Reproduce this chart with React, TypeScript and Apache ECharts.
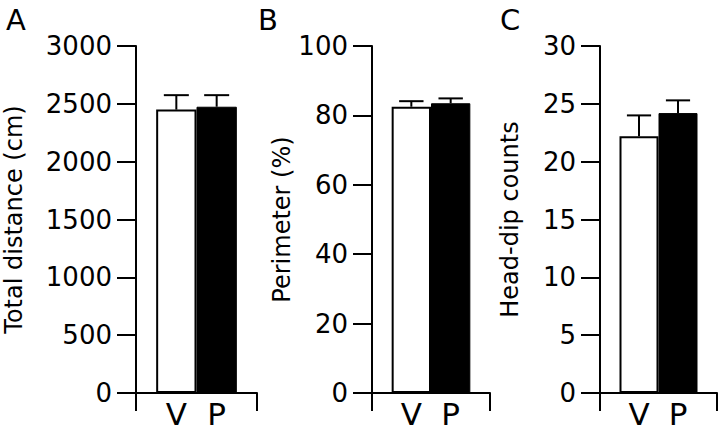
import React, { useEffect, useRef } from "react";
import * as echarts from "echarts";

const categories = ["V", "P"];
const panelLetters = ["A", "B", "C"];
const axisNames = ["Total distance (cm)", "Perimeter (%)", "Head-dip counts"];
const yMax = [3000, 100, 30];
const yInterval = [500, 20, 5];
const distanceMean = [2450, 2475];
const distanceErr = [125, 100];
const perimeterMean = [82.5, 83.5];
const perimeterErr = [1.6, 1.4];
const headDipMean = [22.2, 24.2];
const headDipErr = [1.8, 1.1];

const means = [distanceMean, perimeterMean, headDipMean];
const errs = [distanceErr, perimeterErr, headDipErr];

const FONT = "DejaVu Sans";
const gridLayout = [
  { left: 136, width: 121, nameGap: 110, letterX: 1 },
  { left: 372, width: 118, nameGap: 78, letterX: 253 },
  { left: 600, width: 118, nameGap: 78, letterX: 495 },
];

export default function App() {
  const ref = useRef<HTMLDivElement>(null);
  useEffect(() => {
    if (!ref.current) return;
    const chart = echarts.init(ref.current, null, { renderer: "svg" });
    const axisData = ["", ...categories, ""];
    const grids = gridLayout.map((g) => ({
      left: g.left,
      top: 46,
      width: g.width,
      height: 347,
      containLabel: false,
    }));
    const xAxes = gridLayout.map((g, i) => ({
      type: "category",
      gridIndex: i,
      data: axisData,
      boundaryGap: false,
      axisLine: { show: true, lineStyle: { color: "#000", width: 2 } },
      axisTick: {
        show: true,
        interval: (idx: number) => idx === 0 || idx === axisData.length - 1,
        length: 18,
        lineStyle: { color: "#000", width: 2 },
      },
      axisLabel: {
        interval: 0,
        color: "#000",
        fontSize: 31,
        fontFamily: FONT,
        margin: 5,
      },
      splitLine: { show: false },
    }));
    const yAxes = gridLayout.map((g, i) => ({
      type: "value",
      gridIndex: i,
      min: 0,
      max: yMax[i],
      interval: yInterval[i],
      name: axisNames[i],
      nameLocation: "middle",
      nameGap: g.nameGap,
      nameTextStyle: { color: "#000", fontSize: 24, fontFamily: FONT },
      axisLine: { show: true, lineStyle: { color: "#000", width: 2 } },
      axisTick: { show: true, length: 19, lineStyle: { color: "#000", width: 2 } },
      axisLabel: {
        color: "#000",
        fontSize: 26,
        fontFamily: FONT,
        margin: 24,
        formatter: (v: number) => String(v),
      },
      splitLine: { show: false },
    }));
    const series: any[] = [];
    gridLayout.forEach((g, i) => {
      series.push({
        type: "bar",
        xAxisIndex: i,
        yAxisIndex: i,
        barWidth: "100%",
        data: [
          "-",
          ...means[i].map((v, k) => ({
            value: v,
            itemStyle:
              k === 0
                ? { color: "#fff", borderColor: "#000", borderWidth: 2 }
                : { color: "#000", borderColor: "#000", borderWidth: 1 },
          })),
          "-",
        ],
        z: 2,
      });
      series.push({
        type: "custom",
        xAxisIndex: i,
        yAxisIndex: i,
        z: 3,
        data: means[i].map((v, k) => [k + 1, v, errs[i][k]]),
        renderItem: (params: any, api: any) => {
          const x = api.value(0);
          const m = api.value(1);
          const e = api.value(2);
          const base = api.coord([x, m]);
          const top = api.coord([x, m + e]);
          const w = api.size([1, 0])[0] * 0.62;
          const style = { stroke: "#000", lineWidth: 2 };
          return {
            type: "group",
            children: [
              { type: "line", shape: { x1: base[0], y1: base[1], x2: top[0], y2: top[1] }, style },
              { type: "line", shape: { x1: top[0] - w / 2, y1: top[1], x2: top[0] + w / 2, y2: top[1] }, style },
            ],
          };
        },
      });
    });
    chart.setOption({
      animation: false,
      backgroundColor: "#fff",
      textStyle: { fontFamily: FONT },
      title: gridLayout.map((g, i) => ({
        text: panelLetters[i],
        left: g.letterX,
        top: 0,
        textStyle: { color: "#000", fontSize: 29, fontWeight: "normal", fontFamily: FONT },
      })),
      grid: grids,
      xAxis: xAxes,
      yAxis: yAxes,
      series,
    });
    return () => chart.dispose();
  }, []);
  return (
    <div
      ref={ref}
      style={{ position: "fixed", left: 0, top: 0, width: 720, height: 432, background: "#fff" }}
    />
  );
}
